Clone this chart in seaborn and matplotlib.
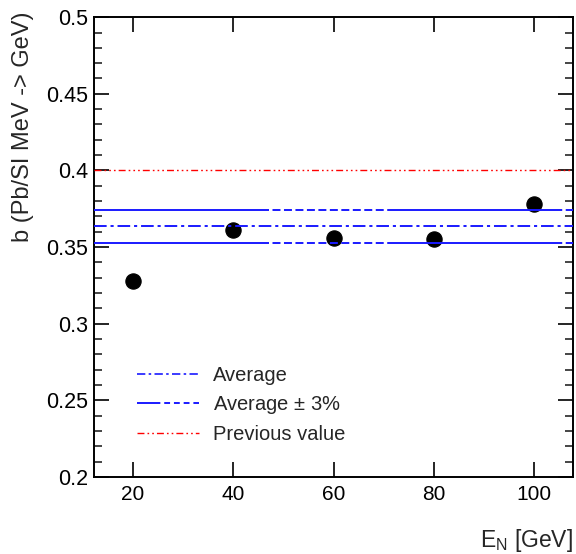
import numpy as np
import pandas as pd
import matplotlib
matplotlib.use("Agg")
import matplotlib.pyplot as plt
from matplotlib.lines import Line2D
import seaborn as sns

# data
energy = [20, 40, 60, 80, 100]
b_value = [0.328, 0.361, 0.356, 0.355, 0.378]
average = 0.3635
previous = 0.40
band = 0.03

sns.set_style("ticks")
plt.rcParams["font.family"] = ["Liberation Sans", "DejaVu Sans"]
plt.rcParams["mathtext.fontset"] = "custom"
plt.rcParams["mathtext.rm"] = "Liberation Sans"

df = pd.DataFrame({"E": energy, "b": b_value})

fig = plt.figure(figsize=(5.76, 5.54), dpi=100)
ax = fig.add_axes([0.163, 0.139, 0.832, 0.830])

# dash patterns (in units of linewidth)
avg_dash = (6.5, 2, 1.6, 2)
prev_dash = (5, 2.2, 1.2, 2.2, 1.2, 2.2, 1.2, 2.2)
band_dash = [90, 1.8] + [4.1, 1.8] * 10

sns.scatterplot(data=df, x="E", y="b", ax=ax, s=120, color="black",
                edgecolor="black", zorder=2, legend=False)

ax.axhline(average, color="#1a1aff", lw=1.4, dashes=avg_dash, zorder=3)
ax.axhline(average * (1 + band), color="#1a1aff", lw=1.4, dashes=band_dash, zorder=3)
ax.axhline(average * (1 - band), color="#1a1aff", lw=1.4, dashes=band_dash, zorder=3)
ax.axhline(previous, color="red", lw=1.0, dashes=prev_dash, zorder=3)

ax.set_xlim(12.2, 107.8)
ax.set_ylim(0.2, 0.5)
ax.set_xticks([20, 40, 60, 80, 100])
ax.set_yticks([0.2, 0.25, 0.3, 0.35, 0.4, 0.45, 0.5])
ax.set_yticklabels(["0.2", "0.25", "0.3", "0.35", "0.4", "0.45", "0.5"])
ax.set_yticks(np.arange(0.2, 0.5001, 0.01), minor=True)
ax.tick_params(axis="both", which="major", direction="in", length=11, width=1.2,
               top=True, right=True, colors="black")
ax.tick_params(axis="x", labelsize=15, pad=6)
ax.tick_params(axis="y", labelsize=15.5, pad=4)
ax.tick_params(axis="y", which="minor", direction="in", length=6, width=1.2,
               right=True)
ax.tick_params(axis="x", which="minor", bottom=False, top=False)
for s in ax.spines.values():
    s.set_linewidth(1.4)
    s.set_color("black")
ax.set_xlabel("")
ax.set_ylabel("")

fig.text(23 / 576, 1 - 11 / 554, "b (Pb/SI MeV -> GeV)", rotation=90,
         ha="center", va="top", fontsize=17)
fig.text(573 / 576, 1 - 540 / 554, r"E$_{\rm N}$ [GeV]", ha="right",
         va="center", fontsize=16.5)

handles = [
    Line2D([], [], color="#1a1aff", lw=1.2, dashes=(5, 2, 1.5, 2)),
    Line2D([], [], color="#1a1aff", lw=1.4, dashes=[12, 2, 3, 2, 3, 2, 3, 2]),
    Line2D([], [], color="red", lw=1.0, dashes=(5, 2.2, 1.2, 2.2, 1.2, 2.2)),
]
ax.legend(handles, ["Average", r"Average $\pm$ 3%", "Previous value"],
          loc="lower left", bbox_to_anchor=(0.09, 0.072), frameon=False,
          borderpad=0, borderaxespad=0,
          fontsize=14.5, handlelength=3.1, handletextpad=0.65, labelspacing=0.45)

fig.savefig("out.png", dpi=100)
